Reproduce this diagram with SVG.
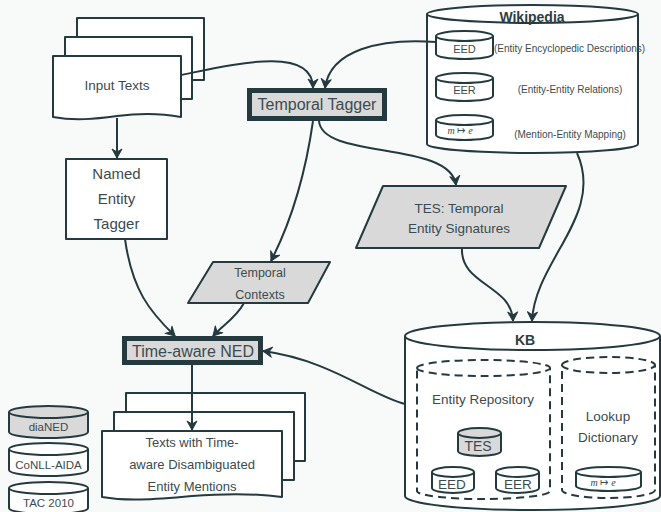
<svg xmlns="http://www.w3.org/2000/svg" width="661" height="512" viewBox="0 0 661 512">
<defs>
<marker id="arr" markerUnits="userSpaceOnUse" viewBox="-10 -6 12 12" refX="0" refY="0" markerWidth="12" markerHeight="12" orient="auto">
<path d="M0,0 L-9,-5 L-6,0 L-9,5 Z" fill="#243a3f" stroke="#243a3f" stroke-width="1" stroke-linejoin="round"/>
</marker>
</defs>
<style>
.bg{fill:#f8f9f9}
.s{stroke:#243a3f;stroke-width:2;fill:#ffffff;stroke-linejoin:round}
.g{fill:#d9d9d9}
.thick{stroke:#243a3f;stroke-width:5;fill:#d9d9d9}
.d{stroke:#243a3f;stroke-width:2;fill:none;stroke-dasharray:8,5}
.ln{stroke:#243a3f;stroke-width:2;fill:none}
.c{stroke:#243a3f;stroke-width:2;fill:none;marker-end:url(#arr)}
text{font-family:"Liberation Sans",Arial,sans-serif;fill:#3b4b50;text-anchor:middle}
.b{font-weight:bold;fill:#2c3e43}
.m{font-family:"Liberation Serif","DejaVu Serif",serif;font-style:italic}
</style>
<rect class="bg" x="0" y="0" width="661" height="512"/>

<g id="input-texts">
<rect class="s" x="77" y="18" width="127" height="62"/>
<rect class="s" x="65" y="37" width="127" height="62"/>
<path class="s" d="M53,56 H181 V117 C160,113 140,113 117,116 C95,119 75,121 53,117 Z"/>
<text x="117" y="90" font-size="13.5">Input Texts</text>
</g>

<g id="named-entity-tagger">
<rect class="s" x="66" y="159" width="101" height="80"/>
<text x="116.5" y="179" font-size="15">Named</text>
<text x="116.5" y="204" font-size="15">Entity</text>
<text x="116.5" y="229" font-size="15">Tagger</text>
</g>

<g id="temporal-tagger">
<rect class="thick" x="249.5" y="90.5" width="135" height="28"/>
<text x="317" y="110" font-size="16">Temporal Tagger</text>
</g>

<g id="wikipedia">
<path class="s" d="M427,14 A105.5,9 0 0 1 638,14 V144 A105.5,9 0 0 1 427,144 Z"/>
<path class="ln" d="M427,14 A105.5,9 0 0 0 638,14"/>
<text class="b" x="532" y="22" font-size="14">Wikipedia</text>
<g id="wiki-eed">
<path class="s" d="M436,36 A28.5,5 0 0 1 493,36 V54 A28.5,5 0 0 1 436,54 Z"/>
<path class="ln" d="M436,36 A28.5,5 0 0 0 493,36"/>
<text x="464.5" y="53" font-size="11">EED</text>
</g>
<g id="wiki-eer">
<path class="s" d="M436,78 A28.5,5 0 0 1 493,78 V96 A28.5,5 0 0 1 436,96 Z"/>
<path class="ln" d="M436,78 A28.5,5 0 0 0 493,78"/>
<text x="464.5" y="94" font-size="11">EER</text>
</g>
<g id="wiki-map">
<path class="s" d="M436,120 A28.5,5 0 0 1 493,120 V135 A28.5,5 0 0 1 436,135 Z"/>
<path class="ln" d="M436,120 A28.5,5 0 0 0 493,120"/>
<text x="460" y="133.5" font-size="10"><tspan class="m">m</tspan> ↦ <tspan class="m">e</tspan></text>
</g>
<text x="494" y="52" font-size="10" style="text-anchor:start">(Entity Encyclopedic Descriptions)</text>
<text x="570" y="93" font-size="10">(Entity-Entity Relations)</text>
<text x="570" y="138" font-size="10">(Mention-Entity Mapping)</text>
</g>

<g id="tes">
<path class="s g" d="M383,186 H566 L539,248 H356 Z"/>
<text x="459" y="213" font-size="13.5">TES: Temporal</text>
<text x="459" y="233" font-size="13.5">Entity Signatures</text>
</g>

<g id="temporal-contexts">
<path class="s g" d="M213,262 H330 L308,303 H188 Z"/>
<text x="260" y="277" font-size="12.5">Temporal</text>
<text x="260" y="299" font-size="12.5">Contexts</text>
</g>

<g id="time-aware-ned">
<rect class="thick" x="124.5" y="338.5" width="136" height="24"/>
<text x="193" y="357" font-size="16">Time-aware NED</text>
</g>

<g id="output-texts">
<rect class="s" x="126" y="393" width="179" height="68"/>
<rect class="s" x="114" y="412" width="180" height="68"/>
<path class="s" d="M102,431 H282 V497 C260,494 230,493 192,496 C150,500 125,501 102,497 Z"/>
<text x="192" y="447" font-size="13">Texts with Time-</text>
<text x="192" y="469" font-size="13">aware Disambiguated</text>
<text x="192" y="491" font-size="13">Entity Mentions</text>
</g>

<g id="kb">
<path class="s" d="M405,336 A127.5,14 0 0 1 660,336 V496 A127.5,14 0 0 1 405,496 Z"/>
<path class="ln" d="M405,336 A127.5,14 0 0 0 660,336"/>
<text class="b" x="525" y="345" font-size="14">KB</text>
<g id="entity-repository">
<path class="d" d="M417,368 A66.5,8 0 0 1 550,368 V491 A66.5,8 0 0 1 417,491 Z"/>
<path class="d" d="M417,368 A66.5,8 0 0 0 550,368"/>
<text x="483" y="404" font-size="13.5">Entity Repository</text>
<g id="kb-tes">
<path class="s g" d="M458,433 A21.5,5 0 0 1 501,433 V451 A21.5,5 0 0 1 458,451 Z"/>
<path class="ln" d="M458,433 A21.5,5 0 0 0 501,433"/>
<text x="478" y="451" font-size="14">TES</text>
</g>
<g id="kb-eed">
<path class="s" d="M432,472 A21,5 0 0 1 474,472 V488 A21,5 0 0 1 432,488 Z"/>
<path class="ln" d="M432,472 A21,5 0 0 0 474,472"/>
<text x="452" y="489" font-size="13.5">EED</text>
</g>
<g id="kb-eer">
<path class="s" d="M496,472 A21.5,5 0 0 1 539,472 V488 A21.5,5 0 0 1 496,488 Z"/>
<path class="ln" d="M496,472 A21.5,5 0 0 0 539,472"/>
<text x="518" y="489" font-size="13.5">EER</text>
</g>
</g>
<g id="lookup-dictionary">
<path class="d" d="M562,365 A46.5,8 0 0 1 655,365 V490 A46.5,8 0 0 1 562,490 Z"/>
<path class="d" d="M562,365 A46.5,8 0 0 0 655,365"/>
<text x="608" y="421" font-size="13.5">Lookup</text>
<text x="608" y="442" font-size="13.5">Dictionary</text>
<g id="kb-map">
<path class="s" d="M576,472 A32.5,5 0 0 1 641,472 V486 A32.5,5 0 0 1 576,486 Z"/>
<path class="ln" d="M576,472 A32.5,5 0 0 0 641,472"/>
<text x="603" y="486" font-size="10"><tspan class="m">m</tspan> ↦ <tspan class="m">e</tspan></text>
</g>
</g>
</g>

<g id="datasets">
<g id="dianed">
<path class="s g" d="M9,412 A39.5,6 0 0 1 88,412 V432 A39.5,6 0 0 1 9,432 Z"/>
<path class="ln" d="M9,412 A39.5,6 0 0 0 88,412"/>
<text x="48.5" y="431" font-size="11.5">diaNED</text>
</g>
<g id="conll">
<path class="s" d="M9,449 A39.5,6 0 0 1 88,449 V470 A39.5,6 0 0 1 9,470 Z"/>
<path class="ln" d="M9,449 A39.5,6 0 0 0 88,449"/>
<text x="48.5" y="469" font-size="11.5">CoNLL-AIDA</text>
</g>
<g id="tac">
<path class="s" d="M9,488 A39.5,6 0 0 1 88,488 V508 A39.5,6 0 0 1 9,508 Z"/>
<path class="ln" d="M9,488 A39.5,6 0 0 0 88,488"/>
<text x="48.5" y="507" font-size="11.5">TAC 2010</text>
</g>
</g>

<g id="connectors">
<path class="c" d="M117,118 V158"/>
<path class="c" d="M181,75 C235,64 313,45 313,88"/>
<path class="c" d="M436,42 C380,38 330,50 325,88"/>
<path class="c" d="M313,121 C306,170 292,220 271,261"/>
<path class="c" d="M319,121 C322,160 450,140 456,185"/>
<path class="c" d="M462,248 C460,285 512,285 513,321"/>
<path class="c" d="M577,153 C605,215 535,260 532,321"/>
<path class="c" d="M125,239 C132,290 150,312 175,336"/>
<path class="c" d="M244,303 C236,318 222,326 213,336"/>
<path class="c" d="M405,404 C370,395 330,360 263,351"/>
<path class="c" d="M192,365 V430"/>
</g>
</svg>
